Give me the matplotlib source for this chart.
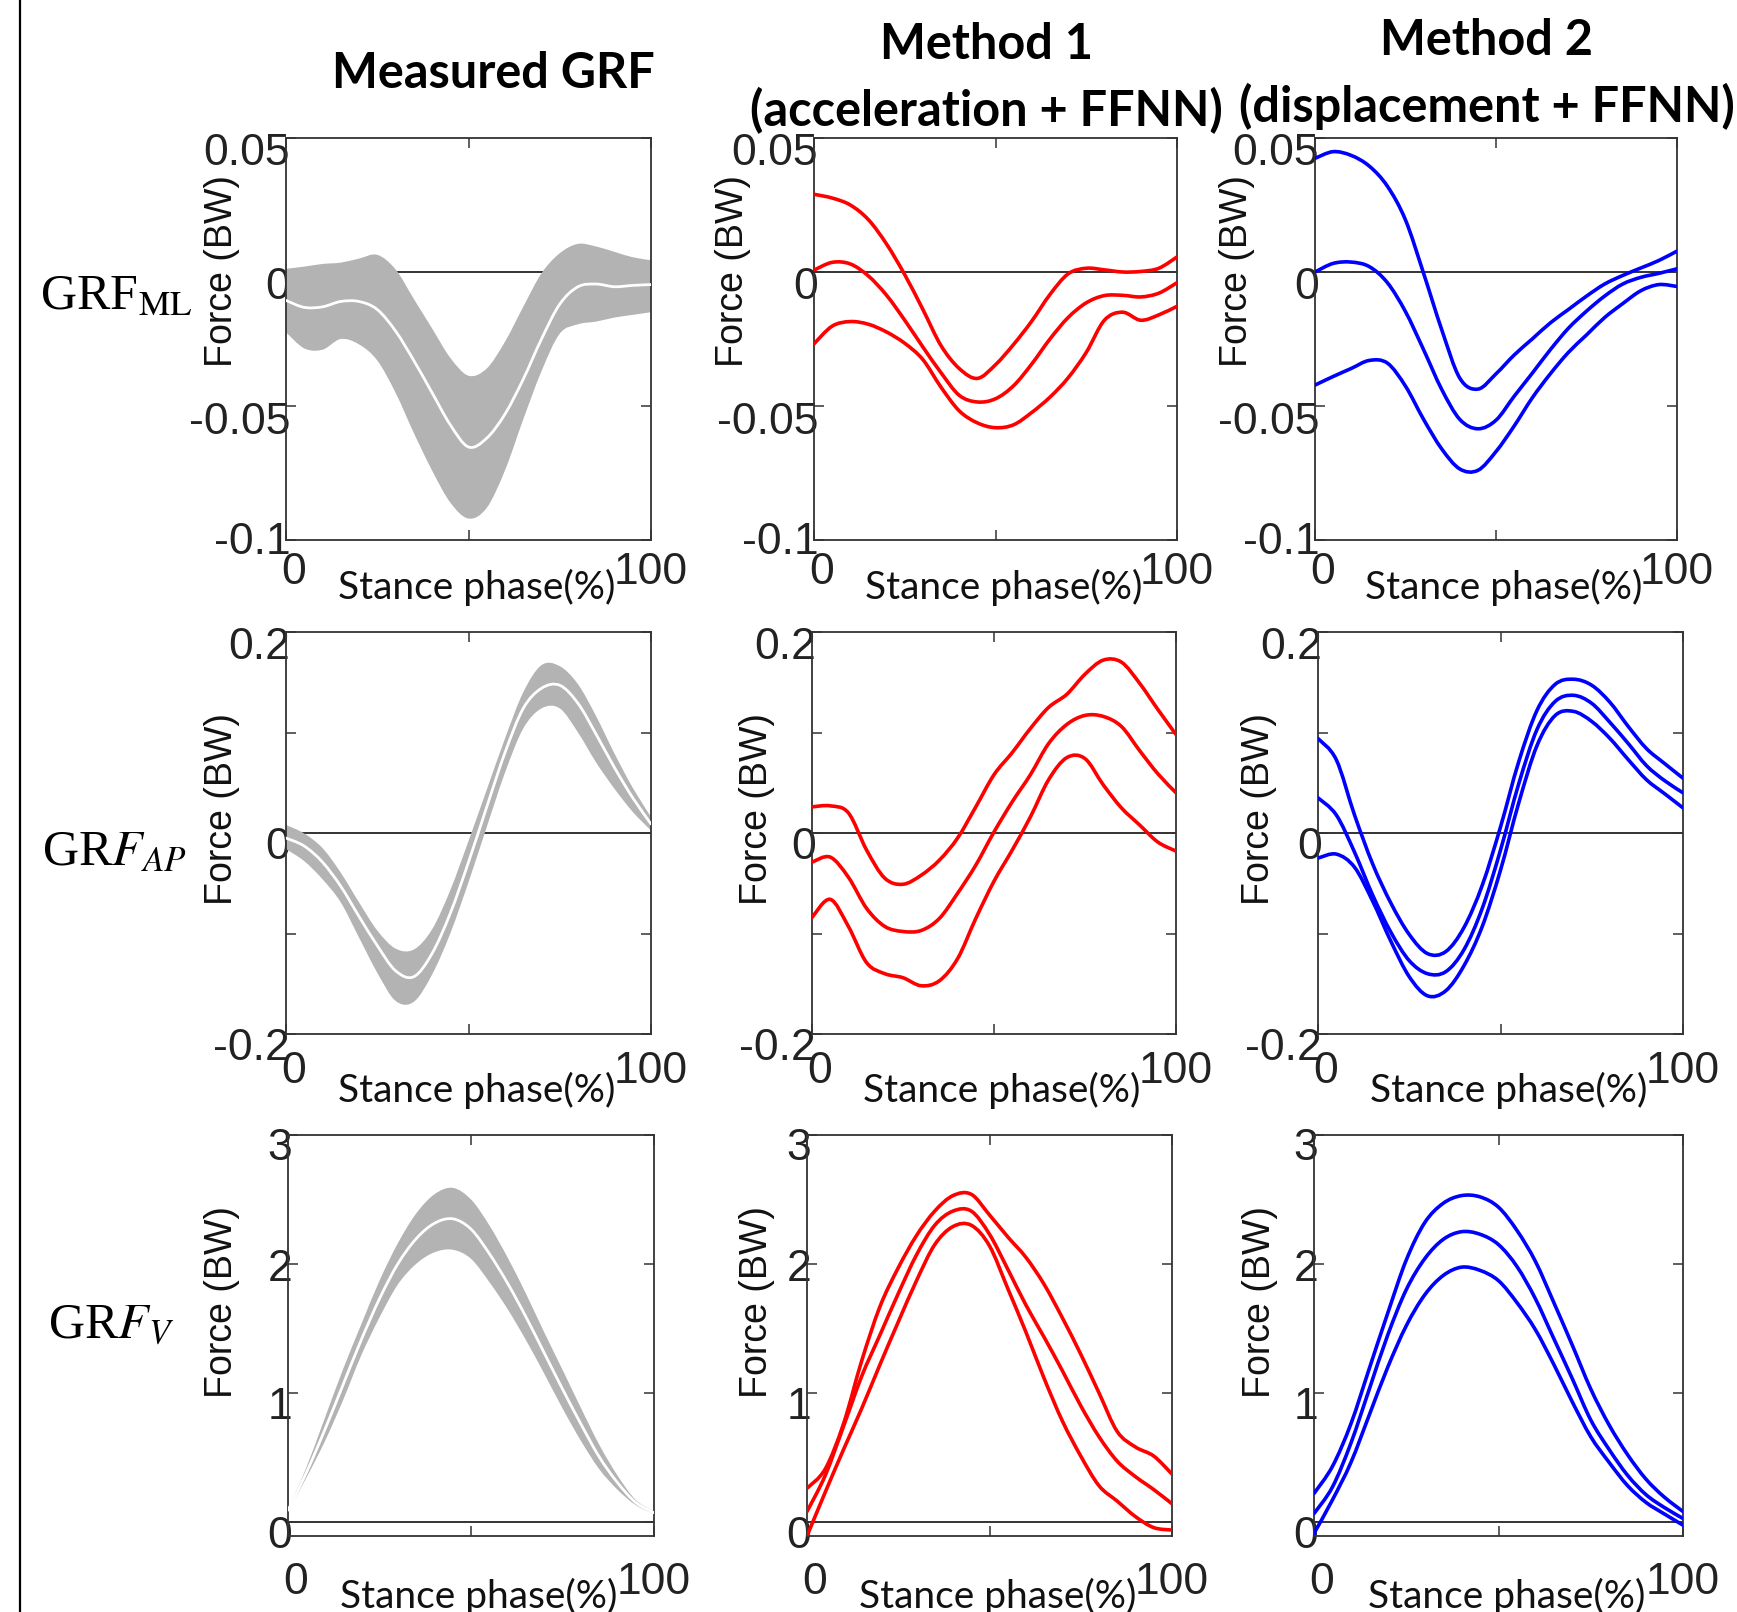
# plot.py
# Measured GRF vs. two estimation methods, 3x3 grid of stance-phase curves

import matplotlib.pyplot as plt
import matplotlib.transforms as mtransforms
from matplotlib.path import Path
from matplotlib.patches import PathPatch

# ── Styling ──────────────────────────────────────────────────────────────────

plt.rcParams.update({
    'font.family': 'Liberation Sans',
    'mathtext.fontset': 'stix',
    'axes.linewidth': 1.3,
    'axes.edgecolor': '#333333',
})

W, H = 1737, 1612

# ── Data (5 % steps of stance) ───────────────────────────────────────────────

PHASE = [0, 5, 10, 15, 20, 25, 30, 35, 40, 45, 50,
         55, 60, 65, 70, 75, 80, 85, 90, 95, 100]

# medio-lateral
ML_MEAS_UP = [0.0012, 0.002, 0.003, 0.0035, 0.005, 0.0064, 0.001, -0.010, -0.021, -0.032, -0.0387,
              -0.036, -0.026, -0.013, -0.0005, 0.007, 0.0105, 0.0095, 0.0075, 0.0055, 0.0044]
ML_MEAS_MEAN = [-0.0106, -0.0132, -0.013, -0.011, -0.011, -0.014, -0.022, -0.033, -0.045, -0.057, -0.0653,
                -0.062, -0.053, -0.040, -0.025, -0.012, -0.0055, -0.0045, -0.0055, -0.005, -0.0047]
ML_MEAS_LO = [-0.0225, -0.0285, -0.029, -0.025, -0.027, -0.033, -0.045, -0.060, -0.074, -0.086, -0.092,
              -0.088, -0.074, -0.055, -0.037, -0.023, -0.0195, -0.0185, -0.017, -0.016, -0.015]
ML_M1_TOP = [0.029, 0.0276, 0.025, 0.0195, 0.0104, -0.001, -0.014, -0.0275, -0.036, -0.0397, -0.0346,
             -0.027, -0.0183, -0.0084, -0.0007, 0.0014, 0.0008, 0.0, 0.0002, 0.0014, 0.0056]
ML_M1_MID = [0.0007, 0.0036, 0.003, -0.0015, -0.0087, -0.018, -0.028, -0.0376, -0.046, -0.0485, -0.0473,
             -0.0424, -0.0343, -0.025, -0.017, -0.0115, -0.0088, -0.0087, -0.0093, -0.0079, -0.004]
ML_M1_BOT = [-0.0268, -0.0202, -0.0185, -0.0195, -0.0224, -0.0266, -0.0327, -0.043, -0.0518, -0.0563, -0.0581,
             -0.057, -0.0524, -0.0467, -0.0395, -0.030, -0.018, -0.015, -0.018, -0.016, -0.0128]
ML_M2_TOP = [0.0424, 0.0449, 0.0435, 0.0395, 0.032, 0.0194, -0.0005, -0.0215, -0.0396, -0.0437, -0.038,
             -0.031, -0.025, -0.019, -0.014, -0.009, -0.0045, -0.0013, 0.0015, 0.0043, 0.0078]
ML_M2_MID = [0.0, 0.0032, 0.0037, 0.002, -0.004, -0.0148, -0.029, -0.0438, -0.055, -0.0585, -0.0553,
             -0.0464, -0.0378, -0.029, -0.021, -0.0146, -0.009, -0.0045, -0.002, -0.0005, 0.0012]
ML_M2_BOT = [-0.0422, -0.039, -0.036, -0.033, -0.034, -0.0426, -0.055, -0.066, -0.0735, -0.074, -0.067,
             -0.0575, -0.047, -0.038, -0.030, -0.0235, -0.017, -0.0118, -0.007, -0.0047, -0.0054]

# antero-posterior
AP_MEAS_UP = [0.008, -0.0005, -0.015, -0.0395, -0.069, -0.097, -0.115, -0.116, -0.096, -0.057, -0.008,
              0.043, 0.094, 0.140, 0.167, 0.166, 0.148, 0.116, 0.079, 0.045, 0.016]
AP_MEAS_MEAN = [-0.005, -0.013, -0.029, -0.053, -0.083, -0.112, -0.137, -0.143, -0.120, -0.080, -0.029,
                0.026, 0.080, 0.124, 0.144, 0.147, 0.129, 0.098, 0.065, 0.035, 0.009]
AP_MEAS_LO = [-0.016, -0.028, -0.046, -0.069, -0.104, -0.139, -0.167, -0.168, -0.141, -0.100, -0.049,
              0.006, 0.060, 0.104, 0.124, 0.124, 0.100, 0.070, 0.044, 0.021, 0.0025]
AP_M1_TOP = [0.026, 0.027, 0.020, -0.017, -0.045, -0.051, -0.042, -0.027, -0.005, 0.026, 0.058,
             0.080, 0.104, 0.125, 0.138, 0.158, 0.172, 0.170, 0.149, 0.123, 0.098]
AP_M1_MID = [-0.029, -0.024, -0.044, -0.075, -0.093, -0.098, -0.097, -0.085, -0.060, -0.032, 0.001,
             0.031, 0.058, 0.089, 0.108, 0.117, 0.116, 0.106, 0.082, 0.059, 0.040]
AP_M1_BOT = [-0.084, -0.066, -0.093, -0.129, -0.140, -0.144, -0.152, -0.147, -0.125, -0.085, -0.048,
             -0.017, 0.016, 0.053, 0.075, 0.074, 0.048, 0.025, 0.008, -0.009, -0.018]
AP_M2_TOP = [0.094, 0.073, 0.018, -0.031, -0.070, -0.101, -0.120, -0.118, -0.094, -0.052, 0.006,
             0.071, 0.122, 0.148, 0.153, 0.147, 0.130, 0.106, 0.084, 0.069, 0.0545]
AP_M2_MID = [0.035, 0.018, -0.019, -0.062, -0.099, -0.127, -0.140, -0.138, -0.116, -0.075, -0.017,
             0.049, 0.103, 0.131, 0.137, 0.129, 0.110, 0.089, 0.067, 0.052, 0.040]
AP_M2_BOT = [-0.025, -0.021, -0.034, -0.068, -0.108, -0.143, -0.162, -0.157, -0.132, -0.093, -0.037,
             0.030, 0.087, 0.117, 0.121, 0.111, 0.094, 0.073, 0.053, 0.039, 0.025]

# vertical
V_MEAS_UP = [0.10, 0.42, 0.80, 1.18, 1.53, 1.87, 2.16, 2.39, 2.54, 2.59, 2.50,
             2.30, 2.05, 1.77, 1.47, 1.18, 0.885, 0.60, 0.36, 0.17, 0.08]
V_MEAS_MEAN = [0.09, 0.38, 0.71, 1.06, 1.41, 1.73, 2.00, 2.195, 2.315, 2.35, 2.27,
               2.08, 1.85, 1.59, 1.31, 1.03, 0.76, 0.505, 0.305, 0.15, 0.07]
V_MEAS_LO = [0.08, 0.34, 0.62, 0.94, 1.29, 1.585, 1.84, 2.00, 2.09, 2.11, 2.04,
             1.86, 1.65, 1.41, 1.15, 0.88, 0.63, 0.41, 0.25, 0.13, 0.06]
V_M1_TOP = [0.26, 0.41, 0.76, 1.25, 1.67, 1.97, 2.22, 2.41, 2.53, 2.54, 2.38,
            2.21, 2.05, 1.84, 1.58, 1.30, 1.00, 0.70, 0.58, 0.51, 0.37]
V_M1_MID = [0.08, 0.36, 0.74, 1.13, 1.45, 1.77, 2.07, 2.30, 2.41, 2.41, 2.23,
            1.96, 1.68, 1.43, 1.17, 0.90, 0.66, 0.47, 0.35, 0.25, 0.14]
V_M1_BOT = [-0.11, 0.23, 0.56, 0.88, 1.22, 1.55, 1.87, 2.15, 2.29, 2.30, 2.14,
            1.81, 1.47, 1.11, 0.78, 0.51, 0.28, 0.16, 0.04, -0.045, -0.064]
V_M2_TOP = [0.22, 0.43, 0.76, 1.19, 1.62, 2.03, 2.32, 2.47, 2.53, 2.52, 2.44,
            2.26, 2.02, 1.70, 1.37, 1.03, 0.75, 0.52, 0.33, 0.19, 0.08]
V_M2_MID = [0.064, 0.27, 0.61, 1.03, 1.45, 1.80, 2.04, 2.19, 2.25, 2.23, 2.15,
            1.98, 1.73, 1.42, 1.11, 0.79, 0.56, 0.36, 0.21, 0.11, 0.026]
V_M2_BOT = [-0.09, 0.17, 0.46, 0.83, 1.20, 1.52, 1.76, 1.91, 1.975, 1.95, 1.87,
            1.70, 1.49, 1.22, 0.93, 0.66, 0.46, 0.28, 0.15, 0.06, -0.026]

COL_TITLES = ["Measured GRF", "Method 1\n(acceleration + FFNN)",
              "Method 2\n(displacement + FFNN)"]
ROW_LABELS = [r'GRF$_{\mathrm{ML}}$', r'GR$F_{AP}$', r'GR$F_{V}$']

Y_LIMS = [(-0.1, 0.05), (-0.2, 0.2), (-0.11, 3)]
Y_TICKS = [[-0.1, -0.05, 0, 0.05], [-0.2, -0.1, 0, 0.1, 0.2], [0, 1, 2, 3]]
Y_TICKLABELS = [['-0.1', '-0.05', '0', '0.05'], ['-0.2', '', '0', '', '0.2'],
                ['0', '1', '2', '3']]

BANDS = [(ML_MEAS_LO, ML_MEAS_MEAN, ML_MEAS_UP),
         (AP_MEAS_LO, AP_MEAS_MEAN, AP_MEAS_UP),
         (V_MEAS_LO, V_MEAS_MEAN, V_MEAS_UP)]
METHOD1 = [(ML_M1_TOP, ML_M1_MID, ML_M1_BOT),
           (AP_M1_TOP, AP_M1_MID, AP_M1_BOT),
           (V_M1_TOP, V_M1_MID, V_M1_BOT)]
METHOD2 = [(ML_M2_TOP, ML_M2_MID, ML_M2_BOT),
           (AP_M2_TOP, AP_M2_MID, AP_M2_BOT),
           (V_M2_TOP, V_M2_MID, V_M2_BOT)]

# ── Layout (pixel boxes: left, right, top, bottom) ───────────────────────────

BOXES = [
    [(286, 651, 138, 540), (814, 1177, 138, 540), (1315, 1677, 138, 540)],
    [(286, 651, 632, 1034), (812, 1176, 632, 1034), (1318, 1683, 632, 1034)],
    [(288, 654, 1135, 1536), (807, 1172, 1135, 1536), (1314, 1683, 1135, 1536)],
]
YLABEL_OFF = [[64, 81, 78], [64, 55, 59], [66, 50, 54]]
YLABEL_Y = [0.668, 0.56, 0.584]
XTICK_PAD = [9, 12, 19]
XLABEL_DROP = [47, 56, 60]
# downward shift (px) of each y tick label, bottom to top
YLAB_SHIFT = [[-2, 12, 11, 11], [10, 0, 10, 0, 11], [10, 10, 1, 9]]


# ── Helpers ──────────────────────────────────────────────────────────────────

def _bezier_segments(xs, ys):
    """Catmull-Rom style cubic segments passing through every (x, y)."""
    pts = list(zip(xs, ys))
    verts, codes = [], []
    for i in range(len(pts) - 1):
        p0 = pts[i - 1] if i > 0 else pts[i]
        p1, p2 = pts[i], pts[i + 1]
        p3 = pts[i + 2] if i + 2 < len(pts) else pts[i + 1]
        c1 = (p1[0] + (p2[0] - p0[0]) / 6, p1[1] + (p2[1] - p0[1]) / 6)
        c2 = (p2[0] - (p3[0] - p1[0]) / 6, p2[1] - (p3[1] - p1[1]) / 6)
        verts += [c1, c2, p2]
        codes += [Path.CURVE4] * 3
    return verts, codes


def smooth_line(ax, xs, ys, **kw):
    verts, codes = _bezier_segments(xs, ys)
    path = Path([(xs[0], ys[0])] + verts, [Path.MOVETO] + codes)
    ax.add_patch(PathPatch(path, fill=False, capstyle='round',
                           joinstyle='round', **kw))


def smooth_band(ax, xs, lo, up, **kw):
    v_up, c_up = _bezier_segments(xs, up)
    v_lo, c_lo = _bezier_segments(xs[::-1], lo[::-1])
    verts = [(xs[0], up[0])] + v_up + [(xs[-1], lo[-1])] + v_lo + [(xs[0], up[0])]
    codes = [Path.MOVETO] + c_up + [Path.LINETO] + c_lo + [Path.CLOSEPOLY]
    ax.add_patch(PathPatch(Path(verts, codes), lw=0, **kw))


# ── Figure ───────────────────────────────────────────────────────────────────

fig = plt.figure(figsize=(W / 100, H / 100), dpi=100)

# left border of the original panel
fig.add_artist(plt.Line2D([20 / W, 20 / W], [0, 1], color='black', lw=1.6))

for r in range(3):
    for c in range(3):
        l, rr, t, b = BOXES[r][c]
        ax = fig.add_axes([l / W, 1 - b / H, (rr - l) / W, (b - t) / H])
        ax.set_xlim(0, 100)
        ax.set_ylim(*Y_LIMS[r])
        ax.axhline(0, color='#333333', lw=1.4, zorder=1)

        if c == 0:
            lo, mean, up = BANDS[r]
            smooth_band(ax, PHASE, lo, up, facecolor='#b3b3b3', zorder=2)
            smooth_line(ax, PHASE, mean, edgecolor='white', lw=2.0, zorder=3)
        else:
            series = METHOD1[r] if c == 1 else METHOD2[r]
            colour = '#ff0000' if c == 1 else '#0000ff'
            for ys in series:
                smooth_line(ax, PHASE, ys, edgecolor=colour, lw=2.6, zorder=3)

        ax.set_xticks([0, 50, 100])
        ax.set_xticklabels(['0', '', '100'])
        ax.set_yticks(Y_TICKS[r])
        ax.set_yticklabels(Y_TICKLABELS[r])
        ax.tick_params(direction='in', length=7, width=1.1, top=True, right=True,
                       labelsize=32, labelcolor='#222222', color='#333333')
        ax.tick_params(axis='y', pad=-3)
        ax.tick_params(axis='x', pad=XTICK_PAD[r])

        # nudge the "0" x label right like the original
        lab0 = ax.get_xticklabels()[0]
        lab0.set_transform(lab0.get_transform() +
                           mtransforms.ScaledTranslation(8 / 100, 0, fig.dpi_scale_trans))
        # y labels sit a little below their ticks in the original
        for lab, dy in zip(ax.get_yticklabels(), YLAB_SHIFT[r]):
            lab.set_transform(lab.get_transform() +
                              mtransforms.ScaledTranslation(0, -dy / 100, fig.dpi_scale_trans))

        ax.set_ylabel("Force (BW)", fontsize=27, color='#111111')
        ax.yaxis.label.set_va('center')
        ax.yaxis.set_label_coords(-YLABEL_OFF[r][c] / (rr - l), YLABEL_Y[r])

        xc = (l + rr) / 2 + 8
        fig.text(xc / W, 1 - (b + XLABEL_DROP[r]) / H, "Stance phase(%)",
                 fontsize=28, family='Lato', ha='center', va='center',
                 color='#111111')

# column titles
fig.text(493 / W, 1 - 73 / H, COL_TITLES[0], fontsize=35, family='Lato',
         weight='bold', ha='center', va='center')
for cx, cy, txt in [(986, 78, COL_TITLES[1]), (1487, 74, COL_TITLES[2])]:
    fig.text(cx / W, 1 - cy / H, txt, fontsize=35, family='Lato', weight='bold',
             ha='center', va='center', linespacing=1.5)

# row labels
for (rx, ry), txt in zip([(116, 297), (114, 853), (111, 1326)], ROW_LABELS):
    fig.text(rx / W, 1 - ry / H, txt, fontsize=36, family='Liberation Serif',
             ha='center', va='center')

fig.savefig("out.png", dpi=100)
print("[+] Saved out.png")
